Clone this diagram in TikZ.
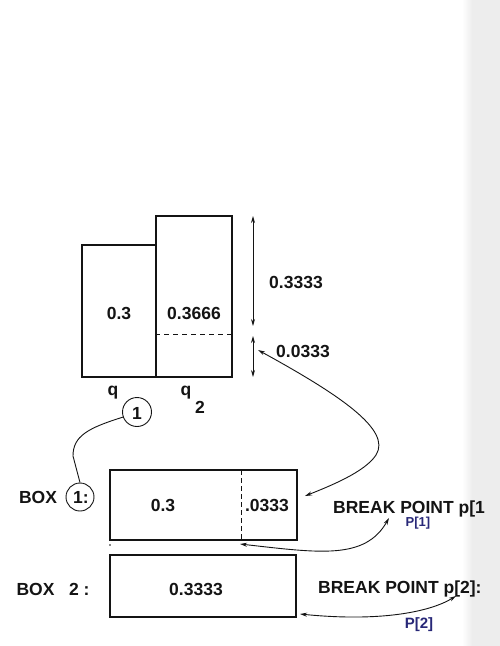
\documentclass[tikz,border=0pt]{standalone}
\usepackage{fontspec}
\setmainfont{Liberation Sans}
\usetikzlibrary{arrows.meta}
\definecolor{ink}{RGB}{20,20,20}
\definecolor{pen}{RGB}{40,40,120}
\begin{document}
\begin{tikzpicture}[x=1pt,y=-1pt,
  lbl/.style={font=\fontsize{17.5}{20}\selectfont\bfseries, text=ink, inner sep=0pt},
  hand/.style={font=\fontsize{13}{14}\selectfont\bfseries, text=pen, inner sep=0pt},
  boxr/.style={draw=ink, line width=1.8pt, inner sep=0pt},
  ring/.style={draw=ink, line width=0.9pt, circle, inner sep=0pt},
  conn/.style={draw=ink, line width=0.9pt},
  tip/.style={{Stealth[length=7pt,width=4pt]}-{Stealth[length=7pt,width=4pt]}}
]
% page
\fill[white] (0,0) rectangle (500,646);
\shade[left color=white, right color=gray!14] (462,0) rectangle (472,646);
\fill[gray!14] (472,0) rectangle (500,646);
\useasboundingbox (0,0) rectangle (500,646);

% histogram bars
\node[boxr, minimum width=74pt, minimum height=132pt] (bar1) at (119,311) {};
\node[boxr, minimum width=76pt, minimum height=161pt] (bar2) at (194,296.5) {};
\draw[ink, line width=0.9pt, dash pattern=on 5pt off 4pt] (bar2.west |- 0,334) coordinate (d1) -- (bar2.east |- 0,334) coordinate (d2);
\node[lbl] (v1) at (119,313) {0.3};
\node[lbl] (v2) at (194,313) {0.3666};

% dimension arrows
\coordinate (a1) at (253,216);
\coordinate (a2) at (253,326);
\coordinate (a3) at (253,336);
\coordinate (a4) at (253,377);
\draw[conn, tip] (a1) -- (a2);
\draw[conn, tip] (a3) -- (a4);
\node[lbl] (h1) at (296,282) {0.3333};
\node[lbl] (h2) at (303,351) {0.0333};

% q labels
\node[lbl] (q1) at (113,393) {q};
\node[ring, minimum size=29pt] (c1) at (137,412) {};
\node[lbl] (one) at (137,413) {1};
\node[lbl] (q2) at (186,393) {q};
\node[lbl] (two) at (200,407) {2};

% box 1
\node[lbl] (boxa) at (38,497) {BOX};
\node[ring, minimum size=28pt] (c2) at (80,497) {};
\node[lbl] (onec) at (81,497) {1:};
\node[boxr, minimum width=187pt, minimum height=70pt] (b1) at (203.5,505) {};
\draw[ink, line width=0.9pt, dash pattern=on 5pt off 3pt] (241,470) coordinate (e1) -- (241,540) coordinate (e2);
\node[lbl] (b1a) at (163,505) {0.3};
\node[lbl] (b1b) at (267,505) {.0333};
\fill[ink] (110,545) circle (0.8pt);

% box 2
\node[lbl] (boxb) at (53,589) {BOX\ \ \ 2 :};
\node[boxr, minimum width=186pt, minimum height=62pt] (b2) at (203,586) {};
\node[lbl] (b2a) at (196,589) {0.3333};

% break points
\node[lbl, anchor=west] (bp1) at (333,509) {BREAK POINT p[1};
\node[hand] (p1) at (418,523) {P[1]};
\node[lbl, anchor=west] (bp2) at (318,589) {BREAK POINT p[2]:};
\node[hand, font=\fontsize{15}{16}\selectfont\bfseries] (p2) at (419,625) {P[2]};

% connector from q circle to box circle
\draw[conn] (c1.200) .. controls (88,428) and (73,436) .. (73,456) -- (c2.north);

% curved double arrows
\coordinate (t1) at (258,350);
\coordinate (t2) at (305,496);
\draw[conn, tip] (t1) .. controls (340,395) and (392,430) .. (376,455) .. controls (365,472) and (330,486) .. (t2);
\coordinate (t3) at (240,544);
\coordinate (t4) at (389,518);
\draw[conn, tip] (t3) .. controls (320,553) and (365,560) .. (t4);
\coordinate (t5) at (300,614);
\coordinate (t6) at (456,596);
\draw[conn, tip] (t5) .. controls (380,622) and (430,612) .. (t6);
\end{tikzpicture}
\end{document}
